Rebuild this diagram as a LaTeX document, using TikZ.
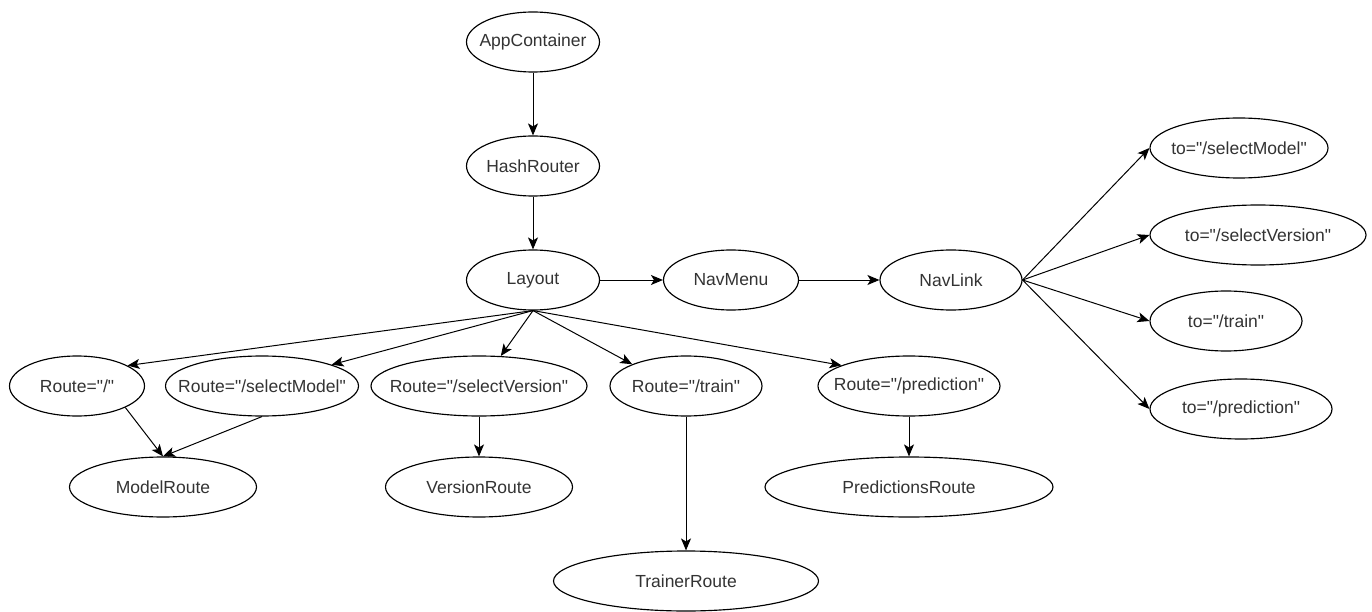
\documentclass[tikz,border=0pt]{standalone}
\usepackage{fontspec}
\setmainfont{Liberation Sans}
\usetikzlibrary{shapes.geometric,arrows.meta}
% centred label that does not widen its ellipse
\newcommand{\ctr}[1]{\makebox[0pt][c]{#1}}
% straight double quote
\newcommand{\dq}{\textquotedbl}
\tikzset{
  comp/.style={ellipse, draw=black, line width=1.15pt, fill=white, inner sep=0pt,
    minimum height=60pt, text=black!80,
    font=\fontsize{17.5}{20}\selectfont},
  link/.style={draw=black, line width=1pt,
    -{Stealth[length=12pt,width=10pt,inset=3pt]}},
}
\begin{document}
\begin{tikzpicture}[x=1pt,y=-1pt]
\useasboundingbox (0,0) rectangle (1372,612);

% main chain
\node[comp, minimum width=133pt] (app)     at (533,42)  {\ctr{AppContainer}};
\node[comp, minimum width=133pt] (hash)    at (533,166) {\ctr{HashRouter}};
\node[comp, minimum width=133pt] (layout)  at (533,280) {\ctr{Layout}};
\node[comp, minimum width=135pt] (navmenu) at (731,280) {\ctr{NavMenu}};
\node[comp, minimum width=142pt] (navlink) at (951,280) {\ctr{NavLink}};

% link targets
\node[comp, minimum width=178pt] (toSM) at (1239,148) {\ctr{to=\dq/selectModel\dq}};
\node[comp, minimum width=216pt] (toSV) at (1258,235) {\ctr{to=\dq/selectVersion\dq}};
\node[comp, minimum width=152pt] (toTR) at (1226,321) {\ctr{to=\dq/train\dq}};
\node[comp, minimum width=182pt] (toPR) at (1241,409) {\ctr{to=\dq/prediction\dq}};

% routes
\node[comp, minimum width=135pt] (rRoot) at (77,386)  {\ctr{Route=\dq/\dq}};
\node[comp, minimum width=193pt] (rSM)   at (262,386) {\ctr{Route=\dq/selectModel\dq}};
\node[comp, minimum width=216pt] (rSV)   at (479,386) {\ctr{Route=\dq/selectVersion\dq}};
\node[comp, minimum width=152pt] (rTR)   at (686,386) {\ctr{Route=\dq/train\dq}};
\node[comp, minimum width=182pt] (rPR)   at (909,386) {\ctr{Route=\dq/prediction\dq}};

% route components
\node[comp, minimum width=187pt] (model)   at (163,487) {\ctr{ModelRoute}};
\node[comp, minimum width=187pt] (version) at (479,487) {\ctr{VersionRoute}};
\node[comp, minimum width=288pt] (pred)    at (909,487) {\ctr{PredictionsRoute}};
\node[comp, minimum width=265pt] (trainer) at (686,581) {\ctr{TrainerRoute}};

% connectors
\draw[link] (app.south) -- (hash.north);
\draw[link] (hash.south) -- (layout.north);
\draw[link] (layout.east) -- (navmenu.west);
\draw[link] (navmenu.east) -- (navlink.west);

\draw[link] (navlink.east) -- (toSM.west);
\draw[link] (navlink.east) -- (toSV.west);
\draw[link] (navlink.east) -- (toTR.west);
\draw[link] (navlink.east) -- (toPR.west);

\draw[link] (layout.south) -- (rRoot.22);
\draw[link] (layout.south) -- (rSM.17);
\draw[link] (layout.south) -- (rSV.54);
\draw[link] (layout.south) -- (rTR.158);
\draw[link] (layout.south) -- (rPR.163);

\draw[link] (rRoot.-24) -- (model.north);
\draw[link] (rSM.south) -- (model.north);
\draw[link] (rSV.south) -- (version.north);
\draw[link] (rTR.south) -- (trainer.north);
\draw[link] (rPR.south) -- (pred.north);
\end{tikzpicture}
\end{document}
